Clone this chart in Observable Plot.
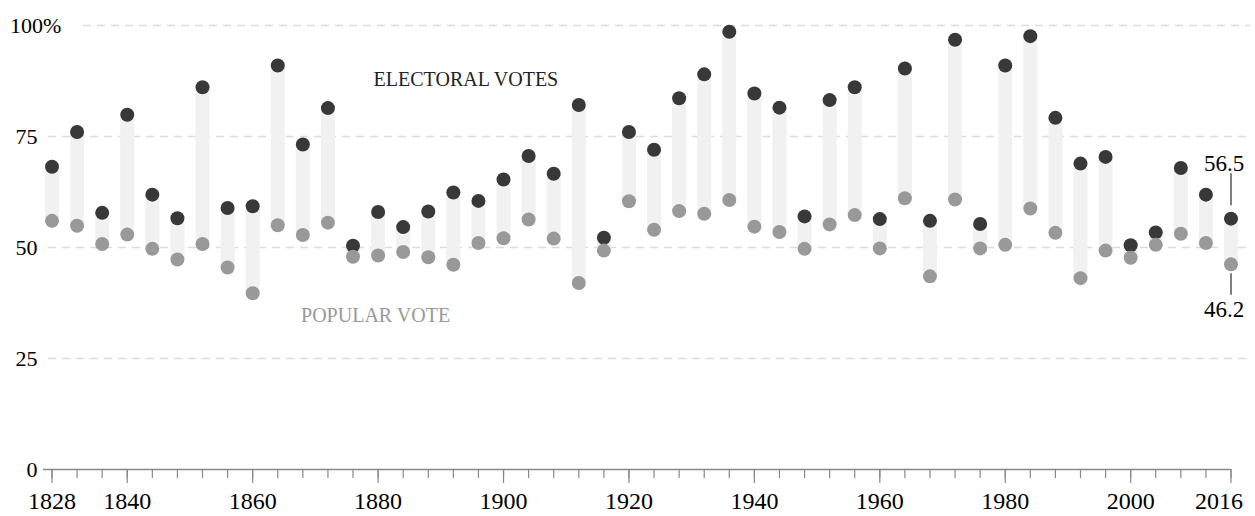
<!DOCTYPE html>
<html>
<head>
<meta charset="utf-8">
<script src="https://cdn.jsdelivr.net/npm/d3@7"></script>
<script src="https://cdn.jsdelivr.net/npm/@observablehq/plot@0.6"></script>
<style>
  html, body { margin: 0; padding: 0; background: #fff; }
  #chart svg { display: block; }
</style>
</head>
<body>
<div id="chart"></div>
<script>
// Presidential elections: winner's share of electoral votes vs popular vote (%)
const years = [1828,1832,1836,1840,1844,1848,1852,1856,1860,1864,1868,1872,1876,1880,1884,1888,1892,1896,1900,1904,1908,1912,1916,1920,1924,1928,1932,1936,1940,1944,1948,1952,1956,1960,1964,1968,1972,1976,1980,1984,1988,1992,1996,2000,2004,2008,2012,2016];
const electoral = [68.2,76.0,57.8,79.9,61.9,56.6,86.1,58.9,59.3,91.0,73.2,81.4,50.4,58.0,54.6,58.1,62.4,60.5,65.3,70.6,66.6,82.1,52.2,76.0,72.0,83.6,89.0,98.6,84.7,81.5,57.0,83.2,86.1,56.4,90.3,56.0,96.8,55.3,91.0,97.6,79.2,68.9,70.4,50.5,53.4,67.9,61.9,56.5];
const popular = [56.0,54.9,50.8,52.9,49.7,47.3,50.8,45.5,39.7,55.0,52.8,55.6,47.9,48.2,49.0,47.8,46.1,51.0,52.1,56.3,52.0,42.0,49.3,60.4,54.0,58.2,57.6,60.7,54.7,53.5,49.7,55.2,57.3,49.8,61.1,43.5,60.8,49.8,50.6,58.8,53.3,43.1,49.3,47.7,50.6,53.1,51.0,46.2];
const labeledYears = [1828,1840,1860,1880,1900,1920,1940,1960,1980,2000,2016];
const yTicks = [0,25,50,75];
const topTick = [100];
const electoralLabel = [{label: "ELECTORAL VOTES", year: 1894, value: 86.3}];
const popularLabel = [{label: "POPULAR VOTE", year: 1879.6, value: 33.2}];

const data = years.map((year, i) => ({year, ev: electoral[i], pv: popular[i]}));
const last = [data[data.length - 1]];
const font = "Liberation Serif";

const chart = Plot.plot({
  width: 1255,
  height: 516,
  marginTop: 25,
  marginBottom: 47,
  marginLeft: 40,
  marginRight: 5,
  x: {domain: [years[0], years[years.length - 1]], insetLeft: 11.5, insetRight: 19.5, axis: null},
  y: {domain: [0, 100], axis: null},
  style: {fontFamily: "'Liberation Serif', 'Times New Roman', serif", background: "#fff", overflow: "visible", color: "#000"},
  marks: [
    // dashed grid
    Plot.ruleY([25, 50, 75], {stroke: "#dcdcdc", strokeWidth: 1.5, strokeDasharray: "8,6", insetLeft: 8}),
    Plot.ruleY(topTick, {stroke: "#dcdcdc", strokeWidth: 1.5, strokeDasharray: "8,6", insetLeft: 43}),
    // bars between popular and electoral
    Plot.ruleX(data, {x: "year", y1: "pv", y2: "ev", stroke: "#f0f1f0", strokeWidth: 14}),
    // dots
    Plot.dot(data, {x: "year", y: "ev", r: 7, fill: "#383838"}),
    Plot.dot(data, {x: "year", y: "pv", r: 7, fill: "#999999"}),
    // x axis line and ticks
    Plot.ruleY([0], {x1: years[0], x2: years[years.length - 1], insetLeft: -8.5, stroke: "#888", strokeWidth: 1.5}),
    Plot.ruleX(years, {x: d => d, y1: 0, y2: 0, insetTop: 0, insetBottom: -9, stroke: "#888", strokeWidth: 1.2}),
    Plot.ruleX(labeledYears, {x: d => d, y1: 0, y2: 0, insetTop: 0, insetBottom: -14, stroke: "#888", strokeWidth: 1.2}),
    // x labels
    Plot.text(labeledYears.slice(0, -1), {x: d => d, text: d => String(d), frameAnchor: "bottom", lineAnchor: "top", dy: 22, fontSize: 24, fontFamily: font, fill: "#000"}),
    Plot.text(labeledYears.slice(-1), {x: d => d, text: d => String(d), frameAnchor: "bottom", lineAnchor: "top", dy: 22, dx: -12, fontSize: 24, fontFamily: font, fill: "#000"}),
    // y labels
    Plot.text(yTicks, {y: d => d, text: d => String(d), frameAnchor: "left", textAnchor: "end", lineAnchor: "middle", dx: -3, fontSize: 22, fontFamily: font, fill: "#000"}),
    Plot.text(topTick, {y: d => d, text: d => d + "%", frameAnchor: "left", textAnchor: "start", lineAnchor: "middle", dx: -30.5, fontSize: 22, fontFamily: font, fill: "#000"}),
    // series labels
    Plot.text(electoralLabel, {x: "year", y: "value", text: "label", lineAnchor: "bottom", fontSize: 20, fontFamily: font, fill: "#222"}),
    Plot.text(popularLabel, {x: "year", y: "value", text: "label", lineAnchor: "bottom", fontSize: 20, fontFamily: font, fill: "#999"}),
    // annotations for 2016
    Plot.ruleX(last, {x: "year", y1: "ev", y2: "ev", insetTop: -44.8, insetBottom: 13, stroke: "#555", strokeWidth: 1.5}),
    Plot.ruleX(last, {x: "year", y1: "pv", y2: "pv", insetTop: 9.4, insetBottom: -31, stroke: "#555", strokeWidth: 1.5}),
    Plot.text(last, {x: "year", y: "ev", text: d => d.ev.toFixed(1), lineAnchor: "bottom", dy: -48, dx: -7, fontSize: 23, fontFamily: font, fill: "#000"}),
    Plot.text(last, {x: "year", y: "pv", text: d => d.pv.toFixed(1), lineAnchor: "bottom", dy: 53, dx: -7, fontSize: 23, fontFamily: font, fill: "#000"})
  ]
});

document.getElementById("chart").appendChild(chart);
</script>
</body>
</html>
